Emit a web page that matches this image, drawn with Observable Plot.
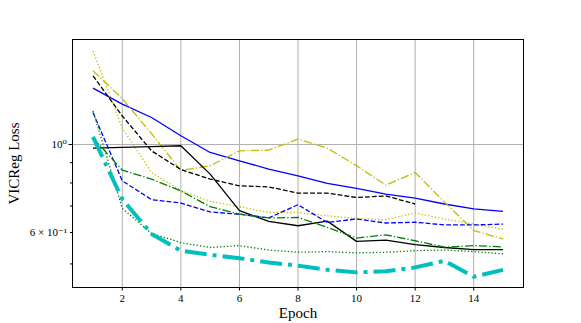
<!DOCTYPE html>
<html>
<head>
<meta charset="utf-8">
<script src="https://cdn.jsdelivr.net/npm/d3@7"></script>
<script src="https://cdn.jsdelivr.net/npm/@observablehq/plot@0.6"></script>
<style>
  html, body { margin: 0; padding: 0; background: white; }
  #chart { width: 581px; height: 323px; }
</style>
</head>
<body>
<div id="chart"></div>
<script>
// Data
const epochs = [1, 2, 3, 4, 5, 6, 7, 8, 9, 10, 11, 12, 13, 14, 15];
const blueSolid     = [1.387, 1.264, 1.17, 1.052, 0.955, 0.91, 0.867, 0.834, 0.798, 0.775, 0.75, 0.733, 0.708, 0.688, 0.678];
const yellowDashDot = [1.534, 1.305, 1.065, 0.86, 0.884, 0.964, 0.968, 1.032, 0.979, 0.884, 0.79, 0.85, 0.716, 0.607, 0.578];
const yellowDotted  = [1.72, 1.10, 0.85, 0.765, 0.719, 0.697, 0.674, 0.674, 0.661, 0.651, 0.646, 0.672, 0.649, 0.63, 0.612];
const blackDashed   = [1.49, 1.18, 0.964, 0.865, 0.818, 0.787, 0.782, 0.754, 0.754, 0.735, 0.742, 0.708];
const blackSolid    = [0.979, 0.984, 0.988, 0.993, 0.842, 0.681, 0.64, 0.624, 0.641, 0.57, 0.574, 0.559, 0.55, 0.543, 0.543];
const blueDashed    = [1.204, 0.81, 0.726, 0.712, 0.676, 0.667, 0.653, 0.705, 0.636, 0.649, 0.634, 0.637, 0.627, 0.627, 0.63];
const greenDashDot  = [1.04, 0.862, 0.818, 0.764, 0.697, 0.668, 0.653, 0.655, 0.618, 0.581, 0.592, 0.572, 0.551, 0.556, 0.552];
const greenDotted   = [1.216, 0.69, 0.597, 0.566, 0.55, 0.556, 0.542, 0.535, 0.537, 0.533, 0.535, 0.54, 0.542, 0.537, 0.53];
const cyanDashDot   = [1.045, 0.728, 0.595, 0.54, 0.527, 0.517, 0.504, 0.495, 0.483, 0.476, 0.479, 0.49, 0.509, 0.464, 0.483];

const xTicks = [2, 4, 6, 8, 10, 12, 14];
const yMajorTicks = [1];
const yMinorTicks = [0.5, 0.6, 0.7, 0.8, 0.9];
const yTickLabels = new Map([[1, "10\u2070"], [0.6, "6 \u00d7 10\u207b\u00b9"]]);

const series = [
  {values: blueSolid,     stroke: "#0000ff", width: 1.3, dash: null},
  {values: yellowDashDot, stroke: "#bfbf00", width: 1.3, dash: "8.3,2.1,1.3,2.1"},
  {values: yellowDotted,  stroke: "#bfbf00", width: 1.3, dash: "1.3,2.1"},
  {values: blackDashed,   stroke: "#000000", width: 1.3, dash: "4.8,2.1"},
  {values: blackSolid,    stroke: "#000000", width: 1.3, dash: null},
  {values: blueDashed,    stroke: "#0000ff", width: 1.3, dash: "4.8,2.1"},
  {values: greenDashDot,  stroke: "#008000", width: 1.3, dash: "8.3,2.1,1.3,2.1"},
  {values: greenDotted,   stroke: "#008000", width: 1.3, dash: "1.3,2.1"},
  {values: cyanDashDot,   stroke: "#00bfbf", width: 4,   dash: "22,6,4,6"}
];

const lineMarks = series.map(s => Plot.line(s.values, {
  x: (d, i) => epochs[i],
  y: d => d,
  stroke: s.stroke,
  strokeWidth: s.width,
  strokeDasharray: s.dash,
  strokeLinecap: "butt",
  strokeLinejoin: "round",
  curve: "linear"
}));

const chart = Plot.plot({
  width: 581,
  height: 323,
  marginLeft: 72,
  marginRight: 58,
  marginTop: 39,
  marginBottom: 36,
  style: {fontFamily: "'Liberation Serif', 'DejaVu Serif', serif", fontSize: "11px", background: "white", color: "black"},
  x: {domain: [0.3, 15.7]},
  y: {type: "log", domain: [0.436, 1.84]},
  marks: [
    Plot.gridX(xTicks, {stroke: "#b0b0b0", strokeOpacity: 1, strokeWidth: 1}),
    Plot.gridY(yMajorTicks, {stroke: "#b0b0b0", strokeOpacity: 1, strokeWidth: 1}),
    ...lineMarks,
    Plot.frame({stroke: "black", strokeWidth: 1}),
    Plot.axisX(xTicks, {tickSize: 3.5, tickPadding: 3, label: null, fontSize: 11}),
    Plot.axisY(yMajorTicks, {tickSize: 3.5, tickPadding: 2, label: null, fontSize: 11, tickFormat: d => yTickLabels.get(d) || ""}),
    Plot.axisY(yMinorTicks, {tickSize: 2, tickPadding: 3.5, label: null, fontSize: 11, tickFormat: d => yTickLabels.get(d) || ""}),
    Plot.text(["Epoch"], {frameAnchor: "bottom", text: d => d, dy: 30, lineAnchor: "bottom", fontSize: 15, fill: "black"}),
    Plot.text(["VICReg Loss"], {frameAnchor: "left", text: d => d, dx: -58, rotate: -90, lineAnchor: "middle", textAnchor: "middle", fontSize: 15, fill: "black"})
  ]
});
document.getElementById("chart").appendChild(chart);
</script>
</body>
</html>
